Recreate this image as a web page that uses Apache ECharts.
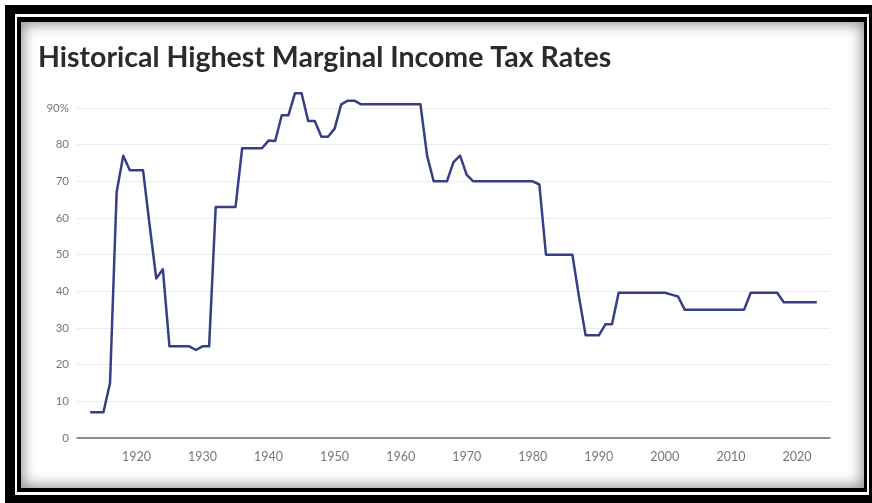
<!DOCTYPE html>
<html>
<head>
<meta charset="utf-8">
<script src="https://cdn.jsdelivr.net/npm/echarts@6/dist/echarts.min.js"></script>
<style>
  html, body { margin: 0; padding: 0; background: #fff; width: 872px; height: 503px; overflow: hidden; }
  .f { position: absolute; }
  #outer { left: 5px; top: 5px; width: 867px; height: 498px; background: #000; }
  #gap { left: 15px; top: 14px; width: 854px; height: 481px; background: #fff; }
  #inner { left: 17px; top: 17px; width: 850px; height: 475px; background: #000; }
  #content { left: 21px; top: 22px; width: 843px; height: 466px; background: #fff; box-shadow: inset 0 0 14px 2px rgba(0,0,0,0.45); }
  #chart { position: absolute; left: 0; top: 0; width: 872px; height: 503px; }
</style>
</head>
<body>
<div class="f" id="outer"></div>
<div class="f" id="gap"></div>
<div class="f" id="inner"></div>
<div class="f" id="content"></div>
<div id="chart"></div>
<script>
const titleText = 'Historical Highest Marginal Income Tax Rates';
const years = [];
for (let y = 1913; y <= 2023; y++) years.push(y);
const topRates = [
  7, 7, 7, 15, 67, 77, 73, 73, 73, 58,          // 1913-1922
  43.5, 46, 25, 25, 25, 25, 24, 25, 25, 63,     // 1923-1932
  63, 63, 63, 79, 79, 79, 79, 81.1, 81, 88,     // 1933-1942
  88, 94, 94, 86.45, 86.45, 82.13, 82.13, 84.36, 91, 92, // 1943-1952
  92, 91, 91, 91, 91, 91, 91, 91, 91, 91,       // 1953-1962
  91, 77, 70, 70, 70, 75.25, 77, 71.75, 70, 70, // 1963-1972
  70, 70, 70, 70, 70, 70, 70, 70, 69.13, 50,    // 1973-1982
  50, 50, 50, 50, 38.5, 28, 28, 28, 31, 31,     // 1983-1992
  39.6, 39.6, 39.6, 39.6, 39.6, 39.6, 39.6, 39.6, 39.1, 38.6, // 1993-2002
  35, 35, 35, 35, 35, 35, 35, 35, 35, 35,       // 2003-2012
  39.6, 39.6, 39.6, 39.6, 39.6, 37, 37, 37, 37, 37, // 2013-2022
  37                                            // 2023
];
const yTickLabels = ['0', '10', '20', '30', '40', '50', '60', '70', '80', '90%'];

const seriesData = years.map((y, i) => [y, topRates[i]]);
const chart = echarts.init(document.getElementById('chart'), null, { renderer: 'canvas' });
chart.setOption({
  backgroundColor: 'transparent',
  animation: false,
  title: {
    text: titleText,
    left: 33, top: 38,
    textStyle: { fontFamily: 'Lato', fontWeight: 'bold', fontSize: 28.5, color: '#2b2b2b' }
  },
  grid: { left: 77, right: 42, top: 71.3, bottom: 65, containLabel: false },
  xAxis: {
    type: 'value', min: 1911, max: 2025, minInterval: 10, maxInterval: 10,
    axisLine: { show: true, lineStyle: { color: '#6b6b6b', width: 1.5 } },
    axisTick: { show: false },
    splitLine: { show: false },
    axisLabel: {
      showMinLabel: false, showMaxLabel: false,
      color: '#777', fontFamily: 'Lato', fontSize: 12.5, margin: 12,
      formatter: v => (v % 10 === 0 ? String(v) : '')
    }
  },
  yAxis: {
    type: 'value', min: 0, max: 100, interval: 10,
    axisLine: { show: false },
    axisTick: { show: false },
    splitLine: { show: true, lineStyle: { color: ['#ececec','#ececec','#ececec','#ececec','#ececec','#ececec','#ececec','#ececec','#ececec','#ececec','transparent'], width: 1 } },
    axisLabel: {
      color: '#777', fontFamily: 'Lato', fontSize: 11.5, margin: 8,
      formatter: v => { const i = Math.round(v / 10); return i < yTickLabels.length ? yTickLabels[i] : ''; }
    }
  },
  series: [{
    type: 'line', data: seriesData, showSymbol: false,
    lineStyle: { color: '#363f86', width: 2.5, join: 'round' }
  }]
});
</script>
</body>
</html>
